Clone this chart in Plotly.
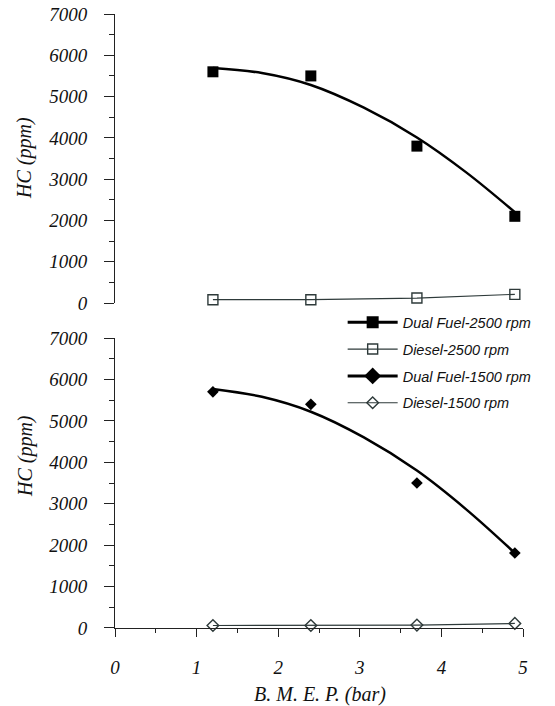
import plotly.graph_objects as go

# ---- data ----
bmep = [1.2, 2.4, 3.7, 4.9]
df_2500 = [5600, 5500, 3800, 2100]
diesel_2500 = [80, 80, 120, 210]
df_1500 = [5700, 5400, 3500, 1810]
diesel_1500 = [60, 60, 70, 110]

# fitted trend curves
curve_x = [1.2, 1.8, 2.4, 3.05, 3.7, 4.3, 4.9]
curve_2500 = [5690, 5570, 5280, 4730, 4010, 3170, 2200]
curve_1500 = [5770, 5580, 5220, 4600, 3800, 2870, 1810]

names = ["Dual Fuel-2500 rpm", "Diesel-2500 rpm", "Dual Fuel-1500 rpm", "Diesel-1500 rpm"]

x_ticks = [0, 1, 2, 3, 4, 5]
y_ticks = [0, 1000, 2000, 3000, 4000, 5000, 6000, 7000]

BLACK = "#000000"
GREY = "#2e3a3a"
serif = dict(family="Liberation Serif", size=19, color="#111", style="italic")
sans = dict(family="Liberation Sans", size=14.5, color="#111", style="italic")

fig = go.Figure()

# ---- top panel (2500 rpm) ----
fig.add_trace(go.Scatter(x=curve_x, y=curve_2500, mode="lines", line=dict(color=BLACK, width=2.5, shape="spline"),
                         showlegend=False, xaxis="x2", yaxis="y2", hoverinfo="skip"))
fig.add_trace(go.Scatter(x=bmep, y=df_2500, mode="markers", marker=dict(symbol="square", size=11, color=BLACK),
                         showlegend=False, xaxis="x2", yaxis="y2", cliponaxis=False))
fig.add_trace(go.Scatter(x=bmep, y=diesel_2500, mode="lines+markers", name=names[1], legendrank=2, legendgroup="b",
                         line=dict(color=GREY, width=1.2),
                         marker=dict(symbol="square-open", size=10, color=GREY, line=dict(width=1.4)),
                         xaxis="x2", yaxis="y2", cliponaxis=False))

# ---- bottom panel (1500 rpm) ----
fig.add_trace(go.Scatter(x=curve_x, y=curve_1500, mode="lines", line=dict(color=BLACK, width=2.5, shape="spline"),
                         showlegend=False, hoverinfo="skip"))
fig.add_trace(go.Scatter(x=bmep, y=df_1500, mode="markers", marker=dict(symbol="diamond", size=9, color=BLACK),
                         showlegend=False, cliponaxis=False))
fig.add_trace(go.Scatter(x=bmep, y=diesel_1500, mode="lines+markers", name=names[3], legendrank=4, legendgroup="d",
                         line=dict(color=GREY, width=1.2),
                         marker=dict(symbol="diamond-open", size=9, color=GREY, line=dict(width=1.4)),
                         cliponaxis=False))

# legend-only entries for the dual fuel series (line + marker)
fig.add_trace(go.Scatter(x=[None], y=[None], mode="lines+markers", name=names[0], legendrank=1, legendgroup="a",
                         line=dict(color=BLACK, width=3), marker=dict(symbol="square", size=12, color=BLACK)))
fig.add_trace(go.Scatter(x=[None], y=[None], mode="lines+markers", name=names[2], legendrank=3, legendgroup="c",
                         line=dict(color=BLACK, width=3), marker=dict(symbol="diamond", size=13, color=BLACK)))

def yaxis(domain, anchor):
    return dict(range=[0, 7000], tickvals=y_ticks, domain=domain, anchor=anchor, automargin=False,
                showgrid=False, zeroline=False, showline=True, linecolor="#222", linewidth=1,
                ticks="outside", tickcolor="#222", ticklen=10, ticklabelstandoff=13,
                ticklabeloverflow="allow",
                tickfont=dict(family="Liberation Serif", size=19, color="#111", style="italic"),
                minor=dict(dtick=500, ticks="outside", ticklen=5, tickcolor="#222"))

fig.update_layout(
    width=555, height=706,
    font=dict(family="Liberation Serif", size=19, color="#111"),
    margin=dict(l=115, r=32, t=14, b=78),
    paper_bgcolor="white", plot_bgcolor="white",
    xaxis=dict(range=[0, 5], tickvals=x_ticks, domain=[0, 1], anchor="y", automargin=False,
               showgrid=False, zeroline=False, showline=True, linecolor="#222", linewidth=1,
               ticks="outside", tickcolor="#222", ticklen=8, ticklabelstandoff=14,
               tickfont=dict(family="Liberation Serif", size=19, color="#111", style="italic"),
               minor=dict(dtick=0.5, ticks="outside", ticklen=4, tickcolor="#222")),
    yaxis=yaxis([0, 0.4723], "x"),
    xaxis2=dict(range=[0, 5], visible=False, domain=[0, 1], anchor="y2", matches="x"),
    yaxis2=yaxis([0.5293, 1.0], "x2"),
    legend=dict(x=0.558, y=0.524, xanchor="left", yanchor="top", bgcolor="rgba(0,0,0,0)",
                font=sans, itemwidth=50, tracegroupgap=5),
    annotations=[
        dict(text="HC (ppm)", xref="paper", yref="paper", x=-0.2206, y=0.7655, showarrow=False,
             xanchor="center", yanchor="middle", textangle=-90, font=dict(serif, size=20)),
        dict(text="HC (ppm)", xref="paper", yref="paper", x=-0.2206, y=0.2801, showarrow=False,
             xanchor="center", yanchor="middle", textangle=-90, font=dict(serif, size=20)),
        dict(text="B. M. E. P. (bar)", xref="paper", yref="paper", x=0.5025, y=-0.1091, showarrow=False,
             xanchor="center", yanchor="middle", font=dict(serif, size=20)),
    ],
)

fig.write_html("out.html", config={"displayModeBar": False},
               post_script="document.body.style.margin='0px';")
